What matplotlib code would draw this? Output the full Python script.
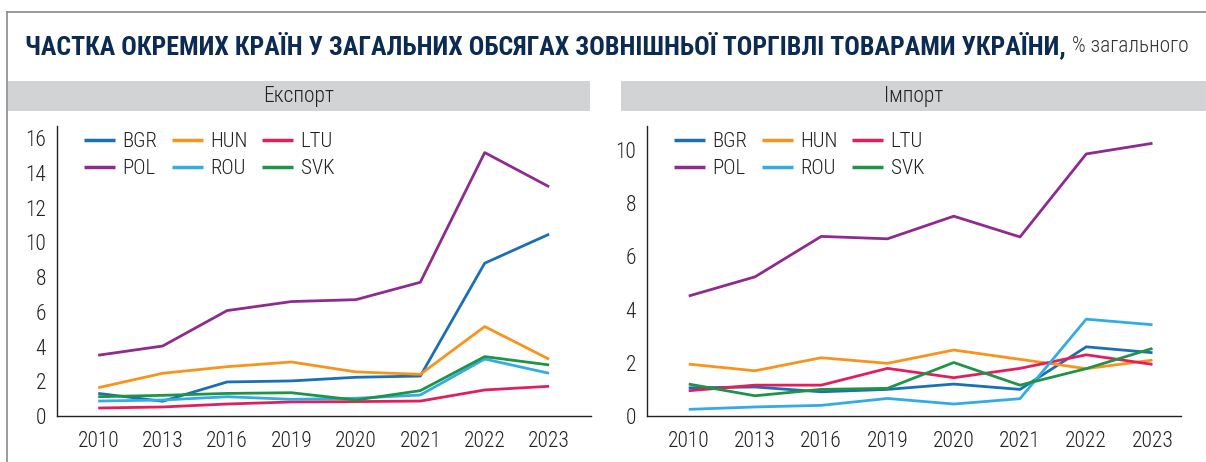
import matplotlib
matplotlib.use("Agg")
import matplotlib.pyplot as plt
from matplotlib import font_manager
from matplotlib.lines import Line2D
from matplotlib.patches import Rectangle

# data
years = ["2010", "2013", "2016", "2019", "2020", "2021", "2022", "2023"]
countries = ["BGR", "HUN", "LTU", "POL", "ROU", "SVK"]
colors = ["#1b6fb5", "#f7941d", "#e21f5c", "#8f2a8f", "#33ace3", "#1e9447"]

export_bgr = [1.30, 0.85, 1.96, 2.02, 2.23, 2.30, 8.80, 10.47]
export_hun = [1.63, 2.46, 2.84, 3.11, 2.54, 2.40, 5.15, 3.27]
export_ltu = [0.46, 0.52, 0.69, 0.81, 0.83, 0.86, 1.50, 1.71]
export_pol = [3.50, 4.03, 6.07, 6.59, 6.70, 7.70, 15.17, 13.20]
export_rou = [0.86, 0.92, 1.11, 0.96, 1.02, 1.21, 3.28, 2.46]
export_svk = [1.11, 1.19, 1.30, 1.34, 0.92, 1.46, 3.42, 2.94]

import_bgr = [1.06, 1.09, 0.91, 1.00, 1.20, 1.00, 2.60, 2.38]
import_hun = [1.95, 1.70, 2.19, 1.98, 2.48, 2.13, 1.78, 2.10]
import_ltu = [0.95, 1.16, 1.16, 1.79, 1.44, 1.79, 2.30, 1.94]
import_pol = [4.51, 5.23, 6.75, 6.66, 7.51, 6.73, 9.85, 10.25]
import_rou = [0.25, 0.34, 0.40, 0.66, 0.45, 0.65, 3.64, 3.43]
import_svk = [1.20, 0.76, 1.00, 1.04, 2.01, 1.16, 1.78, 2.54]

export_data = [export_bgr, export_hun, export_ltu, export_pol, export_rou, export_svk]
import_data = [import_bgr, import_hun, import_ltu, import_pol, import_rou, import_svk]

title_bold = "ЧАСТКА ОКРЕМИХ КРАЇН У ЗАГАЛЬНИХ ОБСЯГАХ ЗОВНІШНЬОЇ ТОРГІВЛІ ТОВАРАМИ УКРАЇНИ,"
title_unit = "% загального"
panel_titles = ["Експорт", "Імпорт"]


def pick_font(candidates):
    names = {f.name for f in font_manager.fontManager.ttflist}
    for c in candidates:
        if c in names:
            return c
    return "DejaVu Sans"


cond_font = pick_font(["Roboto Condensed", "Fira Sans Condensed", "PT Sans Narrow",
                       "Liberation Sans Narrow", "Open Sans Condensed"])
plt.rcParams["font.family"] = [cond_font, "DejaVu Sans"]
plt.rcParams["font.size"] = 15

fig = plt.figure(figsize=(12.06, 4.62), dpi=100)
W, H = 1206, 462

# outer frame (top and left gray lines)
fig.add_artist(Line2D([7 / W, 1], [1 - 12 / H] * 2, color="#8a8a8a", lw=1.2))
fig.add_artist(Line2D([7 / W] * 2, [0, 1 - 12 / H], color="#8a8a8a", lw=1.2))

# title
t = fig.text(25 / W, 1 - 46 / H, title_bold, fontsize=18.6, fontweight="bold",
             color="#0c2b52", va="center", ha="left")
fig.canvas.draw()
bb = t.get_window_extent()
fig.text((bb.x1 + 6) / W, 1 - 46 / H, title_unit, fontsize=15.5, color="#333333",
         va="center", ha="left", fontweight="light")

# gray header bars
headers = [(8, 590), (621, 1206)]
for (x0, x1), name in zip(headers, panel_titles):
    fig.add_artist(Rectangle((x0 / W, 1 - 111 / H), (x1 - x0) / W, 30 / H,
                             transform=fig.transFigure, color="#d1d3d4", lw=0))
    fig.text((x0 + x1) / 2 / W, 1 - 96 / H, name, ha="center", va="center",
             fontsize=15.5, color="#222222", fontweight="light")

# axes
ax_l = fig.add_axes([57 / W, 1 - 416 / H, (591 - 57) / W, (416 - 126) / H])
ax_r = fig.add_axes([647 / W, 1 - 416 / H, (1181 - 647) / W, (416 - 126) / H])

# legend order so rows read BGR HUN LTU / POL ROU SVK
leg_order = [0, 3, 1, 4, 2, 5]

x = list(range(len(years)))
for ax, data, ylim, yticks, xlim in [
    (ax_l, export_data, (0, 16.7), range(0, 17, 2), (-0.64, 7.65)),
    (ax_r, import_data, (0, 10.9), range(0, 11, 2), (-0.63, 7.43)),
]:
    lines = []
    for name, vals, c in zip(countries, data, colors):
        ln, = ax.plot(x, vals, color=c, lw=2.0, label=name, solid_capstyle="butt")
        lines.append(ln)
    ax.set_xlim(*xlim)
    ax.set_ylim(*ylim)
    ax.set_xticks(x)
    ax.set_xticklabels(years)
    ax.set_yticks(list(yticks))
    for s in ["top", "right"]:
        ax.spines[s].set_visible(False)
    for s in ["left", "bottom"]:
        ax.spines[s].set_color("#222222")
        ax.spines[s].set_linewidth(1.0)
    ax.tick_params(axis="both", length=0, labelsize=15.5, colors="#222222")
    ax.tick_params(axis="x", pad=11)
    ax.tick_params(axis="y", pad=8)
    for lab in ax.get_xticklabels() + ax.get_yticklabels():
        lab.set_fontweight("light")
    leg = ax.legend([lines[i] for i in leg_order], [countries[i] for i in leg_order],
                    loc="upper left", bbox_to_anchor=(0.05, 0.98), ncol=3,
                    frameon=False, borderaxespad=0, borderpad=0,
                    handlelength=1.5, handletextpad=0.35, columnspacing=0.7,
                    labelspacing=0.4, fontsize=15)
    for txt in leg.get_texts():
        txt.set_fontweight("light")
        txt.set_color("#222222")
    for h in leg.get_lines():
        h.set_linewidth(2.5)

fig.savefig("out.png", dpi=100)
